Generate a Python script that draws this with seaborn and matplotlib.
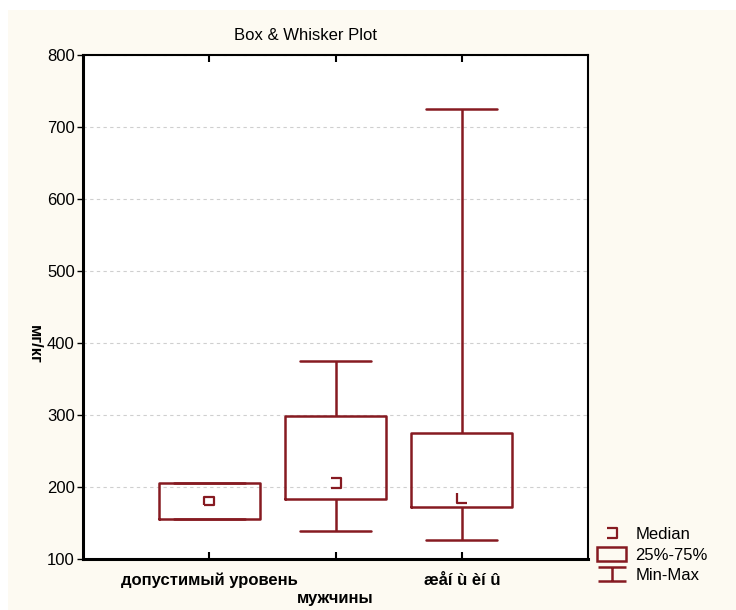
import pandas as pd
import matplotlib
matplotlib.use('Agg')
import matplotlib.pyplot as plt
from matplotlib.path import Path
from matplotlib.lines import Line2D
from matplotlib.patches import Patch, Rectangle
import seaborn as sns

# five-number summaries
groups = ['g1', 'g2', 'g3']
tick_labels = ['допустимый уровень', '', 'æåí ù èí û']
mins = [155, 139, 126]
q1s = [155, 184, 172]
medians = [181, 205, 185]
q3s = [205, 299, 275]
maxs = [205, 375, 725]

color = '#861a21'

rows = []
for g, a, b, c, d, e in zip(groups, mins, q1s, medians, q3s, maxs):
    for v in (a, b, c, d, e):
        rows.append({'group': g, 'value': v})
df = pd.DataFrame(rows)

sns.set_style('white')
plt.rcParams['font.family'] = ['Liberation Sans', 'DejaVu Sans']
plt.rcParams['text.color'] = 'black'
plt.rcParams['axes.labelcolor'] = 'black'
plt.rcParams['xtick.color'] = 'black'
plt.rcParams['ytick.color'] = 'black'

fig = plt.figure(figsize=(7.36, 6.10), dpi=100)
fig.patch.set_facecolor('white')
# cream panel behind the chart
fig.patches.append(Rectangle((8 / 736, 0), 1, 1 - 10 / 610, transform=fig.transFigure,
                             facecolor='#fdfaf2', edgecolor='none', zorder=-10))

ax = fig.add_axes([83 / 736, 1 - 559 / 610, (588 - 83) / 736, (559 - 55) / 610])
ax.set_facecolor('white')

sns.boxplot(data=df, x='group', y='value', order=groups, whis=(0, 100), fill=False,
            color=color, linecolor=color, linewidth=1.8, width=0.8, ax=ax,
            medianprops={'visible': False}, capwidths=0.56)

# odd median glyphs, as drawn in the original
square = Path([(-1, -0.8), (1, -0.8), (1, 0.8), (-1, 0.8), (-1, -0.8)])
bracket = Path([(-1, 1), (1, 1), (1, -1), (-1, -1)])
ell = Path([(-1, 1), (-1, -1), (1, -1)])
for i, (m, mk) in enumerate(zip(medians, [square, bracket, ell])):
    ax.plot([i], [m], marker=mk, linestyle='none', mfc='none', mec=color,
            ms=7.5, mew=1.6, zorder=5)

ax.set_xlim(-1, 3)
ax.set_ylim(100, 800)
ax.set_yticks(range(100, 801, 100))
ax.set_xticks(range(len(groups)))
ax.set_xticklabels(tick_labels, fontsize=12, fontweight='bold')
ax.grid(axis='y', color='#cfcfcf', linestyle=(0, (3, 3)), linewidth=0.8)
ax.set_axisbelow(True)

ax.tick_params(axis='y', direction='out', length=4, width=1, left=True, labelsize=12,
               pad=2)
ax.tick_params(axis='x', direction='in', length=5, width=1.5, bottom=True, top=True, pad=10)

for s in ['left', 'bottom']:
    ax.spines[s].set_linewidth(2.2)
for s in ['top', 'right']:
    ax.spines[s].set_linewidth(1.5)
for s in ax.spines.values():
    s.set_color('black')
    s.set_visible(True)

ax.set_xlabel('мужчины', fontsize=12, fontweight='bold', labelpad=2)
ax.set_ylabel('мг/кг', fontsize=12, fontweight='bold', rotation=270, va='center')
ax.yaxis.set_label_coords(-0.097, 0.425)
ax.set_title('Box & Whisker Plot', fontsize=12, x=0.44, pad=11)

ibeam = Path([(-1, 0.5), (1, 0.5), (0, 0.5), (0, -0.5), (-1, -0.5), (1, -0.5)],
             [Path.MOVETO, Path.LINETO, Path.MOVETO, Path.LINETO, Path.MOVETO, Path.LINETO])
handles = [
    Line2D([], [], marker=bracket, linestyle='none', mfc='none', mec=color, ms=7, mew=1.6),
    Patch(facecolor='none', edgecolor=color, linewidth=1.8),
    Line2D([], [], marker=ibeam, linestyle='none', mfc='none', mec=color, ms=20, mew=1.8),
]
fig.legend(handles, ['Median', '25%-75%', 'Min-Max'], loc='upper left',
           bbox_to_anchor=(597 / 736, 1 - 527 / 610), frameon=False, fontsize=12,
           borderpad=0, borderaxespad=0, handlelength=1.75, handleheight=0.85,
           handletextpad=0.55, labelspacing=0.3)

fig.savefig('out.png', dpi=100)
